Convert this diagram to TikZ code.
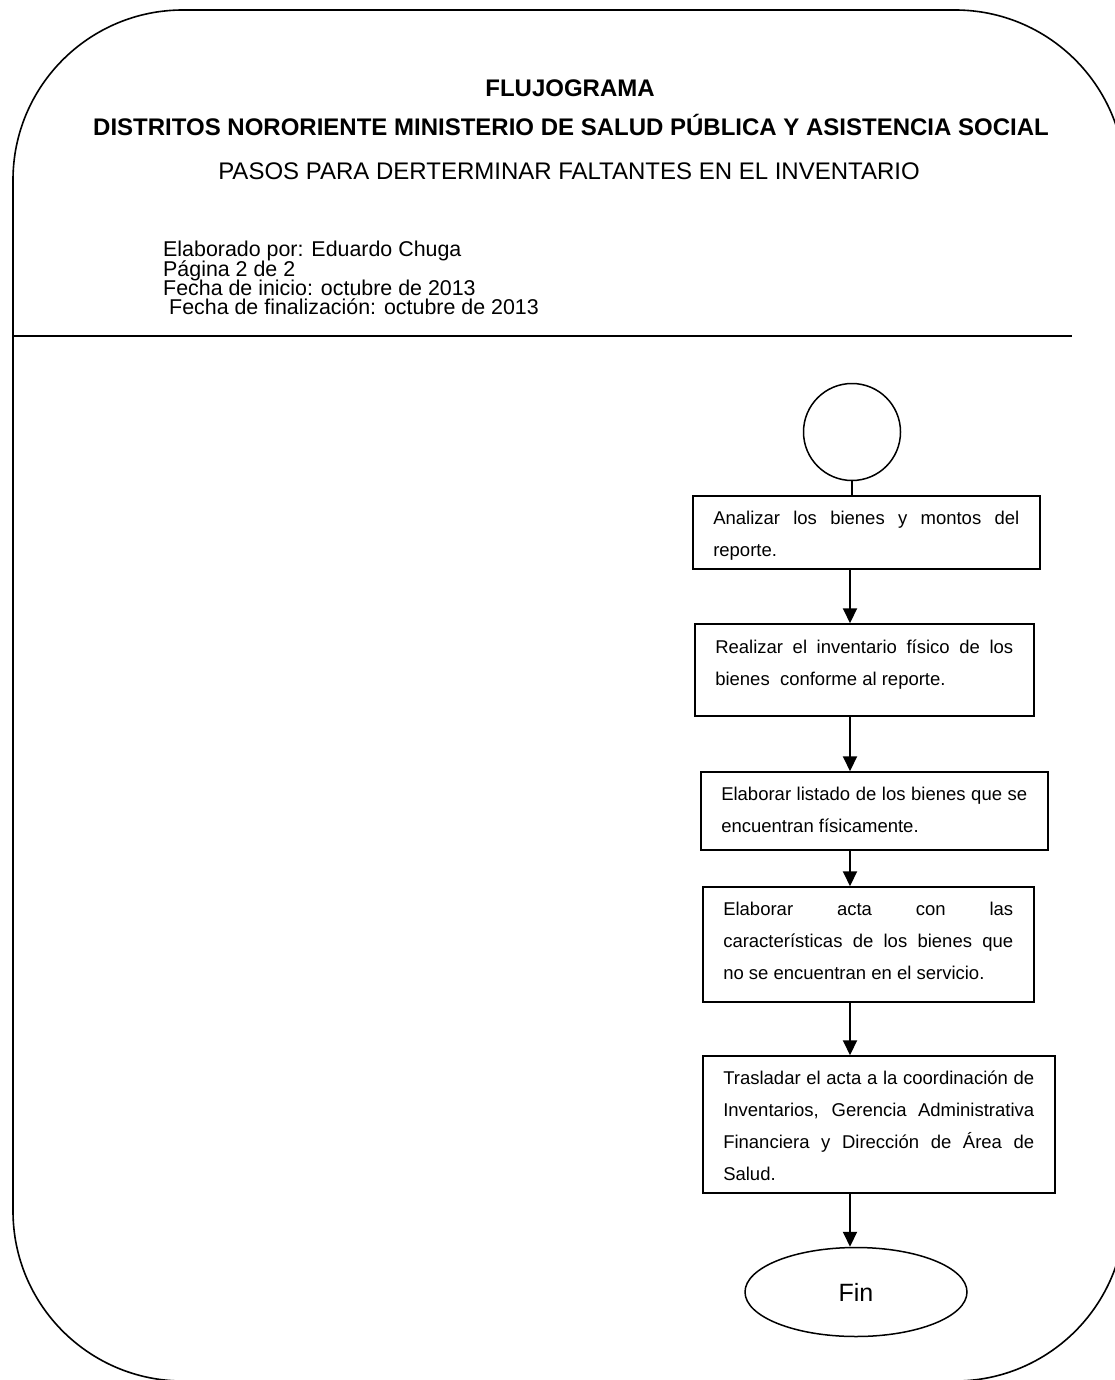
\documentclass[tikz,border=0pt]{standalone}
\usepackage{fontspec}
\setmainfont{Liberation Sans}
\usetikzlibrary{arrows.meta,shapes.geometric}
\tolerance=10000
\hbadness=10000
\hfuzz=5pt
\newcommand{\boxfont}{\fontsize{18.5}{32}\selectfont}
\tikzset{
  frame/.style={draw, line width=1.6pt},
  titlebold/.style={anchor=base, inner sep=0pt, font=\fontsize{24}{28}\selectfont\bfseries},
  titlereg/.style={anchor=base, inner sep=0pt, font=\fontsize{24}{28}\selectfont},
  headline/.style={anchor=base west, inner sep=0pt, font=\fontsize{21.4}{24}\selectfont},
  stepbox/.style={draw, line width=1.5pt, rectangle, anchor=base west,
    inner xsep=20.5pt, inner ysep=0pt, align=justify, font=\boxfont},
  startcircle/.style={draw, circle, line width=1.5pt, minimum size=97pt, inner sep=0pt},
  endoval/.style={draw, ellipse, line width=1.5pt, minimum width=222pt, minimum height=89pt,
    inner sep=0pt, font=\fontsize{25}{30}\selectfont},
  arr/.style={line width=2pt, -{Triangle[length=15pt,width=14pt]}},
  plainline/.style={line width=2pt}
}
\begin{document}
\begin{tikzpicture}[x=1pt,y=-1pt]
\useasboundingbox (0,0) rectangle (1115,1380);
\clip (0,0) rectangle (1115,1380);
% outer frame
\draw[frame, rounded corners=170pt] (13,10) rectangle (1125,1381);
% header rule
\coordinate (ruleL) at (13,336);
\coordinate (ruleR) at (1072,336);
\draw[frame] (ruleL) -- (ruleR);
% titles
\node[titlebold] (t1) at (570,97) {FLUJOGRAMA};
\node[titlebold] (t2) at (571,136) {DISTRITOS NORORIENTE MINISTERIO DE SALUD PÚBLICA Y ASISTENCIA SOCIAL};
\node[titlereg] (t3) at (569,180) {PASOS PARA DERTERMINAR FALTANTES EN EL INVENTARIO};
% header info
\node[headline] (h1) at (163,257) {Elaborado por: Eduardo Chuga};
\node[headline] (h2) at (163,276) {Página 2 de 2};
\node[headline] (h3) at (163,295) {Fecha de inicio: octubre de 2013};
\node[headline] (h4) at (169,314) {Fecha de finalización: octubre de 2013};
% flow
\node[startcircle] (c) at (852,432) {};
\coordinate (axis) at (850,0);
\node[stepbox, text width=306pt, text height=28pt, text depth=45pt] (b1) at (692,524)
  {Analizar los bienes y montos del\linebreak reporte.};
\node[stepbox, text width=298pt, text height=29pt, text depth=63pt] (b2) at (694,653)
  {Realizar el inventario físico de los\linebreak bienes\ \ conforme al reporte.};
\node[stepbox, text width=306pt, text height=28pt, text depth=50pt] (b3) at (700,800)
  {Elaborar listado de los bienes que se\linebreak encuentran físicamente.};
\node[stepbox, text width=290pt, text height=28pt, text depth=87pt] (b4) at (702,915)
  {Elaborar acta con las\linebreak características de los bienes que\linebreak no se encuentran en el servicio.};
\node[stepbox, text width=311pt, text height=28pt, text depth=109pt] (b5) at (702,1084)
  {Trasladar el acta a la coordinación de\linebreak Inventarios, Gerencia Administrativa\linebreak Financiera y Dirección de Área de\linebreak Salud.};
\node[endoval] (fin) at (856,1292) {Fin};
% connectors
\draw[plainline] (c.south) -- (c.south |- b1.north);
\draw[arr] (b1.south -| axis) -- (b2.north -| axis);
\draw[arr] (b2.south -| axis) -- (b3.north -| axis);
\draw[arr] (b3.south -| axis) -- (b4.north -| axis);
\draw[arr] (b4.south -| axis) -- (b5.north -| axis);
\draw[arr] (b5.south -| axis) -- (axis |- fin.north);
\end{tikzpicture}
\end{document}
